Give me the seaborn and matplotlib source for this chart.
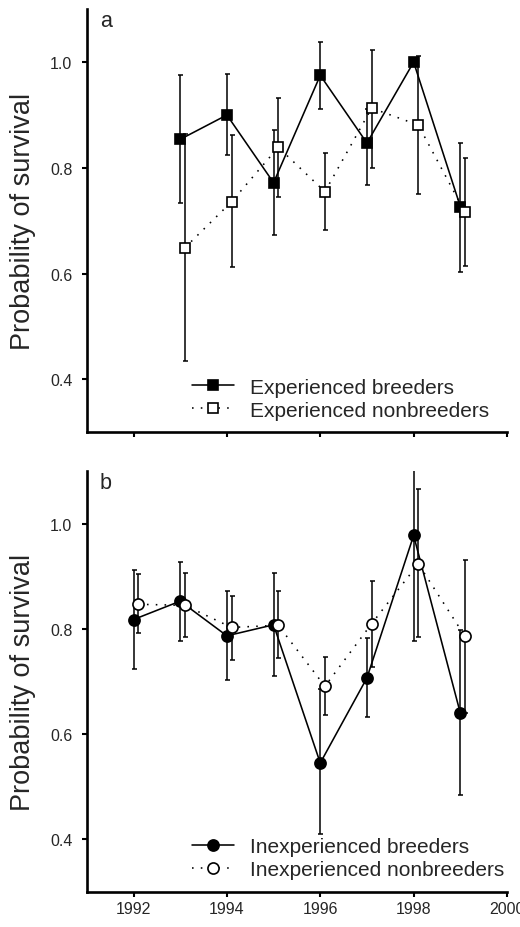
import numpy as np
import pandas as pd
import matplotlib.pyplot as plt
import seaborn as sns

sns.set_theme(style="ticks")
plt.rcParams['font.family'] = ['Liberation Sans', 'DejaVu Sans']
plt.rc('xtick', labelsize=11.5)
plt.rc('ytick', labelsize=11.5)

# panel a: experienced birds
years_a = [1993, 1994, 1995, 1996, 1997, 1998, 1999]
exp_breed = [0.854, 0.900, 0.772, 0.975, 0.847, 1.000, 0.727]
exp_breed_lo = [0.733, 0.825, 0.674, 0.911, 0.768, 1.000, 0.604]
exp_breed_hi = [0.976, 0.978, 0.871, 1.038, 0.911, 1.000, 0.848]
exp_non = [0.649, 0.736, 0.839, 0.755, 0.913, 0.881, 0.716]
exp_non_lo = [0.435, 0.612, 0.745, 0.682, 0.800, 0.750, 0.614]
exp_non_hi = [0.864, 0.862, 0.932, 0.829, 1.023, 1.011, 0.818]

# panel b: inexperienced birds
years_b = [1992, 1993, 1994, 1995, 1996, 1997, 1998, 1999]
inexp_breed = [0.818, 0.853, 0.787, 0.808, 0.545, 0.707, 0.978, 0.640]
inexp_breed_lo = [0.724, 0.777, 0.702, 0.711, 0.410, 0.632, 0.777, 0.484]
inexp_breed_hi = [0.913, 0.927, 0.873, 0.907, 0.686, 0.782, 1.120, 0.798]
inexp_non = [0.847, 0.845, 0.803, 0.807, 0.691, 0.810, 0.924, 0.786]
inexp_non_lo = [0.793, 0.785, 0.741, 0.744, 0.637, 0.727, 0.784, 0.640]
inexp_non_hi = [0.904, 0.907, 0.862, 0.872, 0.746, 0.892, 1.066, 0.932]

year_ticks = [1992, 1994, 1996, 1998, 2000]
prob_ticks = [0.4, 0.6, 0.8, 1.0]
DODGE = 0.1  # nonbreeders shifted right a little so bars don't overlap


def draw_series(ax, x, y, lo, hi, label, marker, filled, ls, ms):
    x = np.asarray(x, dtype=float)
    y = np.asarray(y)
    yerr = [y - np.asarray(lo), np.asarray(hi) - y]
    ax.errorbar(x, y, yerr=yerr, fmt='none', ecolor='black',
                elinewidth=1.1, capsize=1.8, capthick=1.1, zorder=2)
    df = pd.DataFrame({'Year': x, 'Survival': y})
    sns.lineplot(data=df, x='Year', y='Survival', ax=ax, color='black',
                 errorbar=None, label=label, legend=False,
                 marker=marker, markersize=ms,
                 markerfacecolor='black' if filled else 'white',
                 markeredgecolor='black', markeredgewidth=1.2,
                 linestyle=ls, linewidth=1.15, zorder=3)


fig = plt.figure(figsize=(5.2, 9.28), dpi=100)
ax_a = fig.add_axes([0.167, 0.533, 0.808, 0.456])
ax_b = fig.add_axes([0.167, 0.038, 0.808, 0.453])

draw_series(ax_a, years_a, exp_breed, exp_breed_lo, exp_breed_hi,
            'Experienced breeders', 's', True, '-', 7)
draw_series(ax_a, np.array(years_a) + DODGE, exp_non, exp_non_lo, exp_non_hi,
            'Experienced nonbreeders', 's', False, (0, (1, 4.5)), 7)

draw_series(ax_b, years_b, inexp_breed, inexp_breed_lo, inexp_breed_hi,
            'Inexperienced breeders', 'o', True, '-', 8)
draw_series(ax_b, np.array(years_b) + DODGE, inexp_non, inexp_non_lo, inexp_non_hi,
            'Inexperienced nonbreeders', 'o', False, (0, (1, 4.5)), 8)

for ax, letter in [(ax_a, 'a'), (ax_b, 'b')]:
    ax.set_xlim(1991, 2000)
    ax.set_ylim(0.3, 1.1)
    ax.set_xticks(year_ticks)
    ax.set_yticks(prob_ticks)
    ax.yaxis.set_major_formatter(plt.FormatStrFormatter('%.1f'))
    ax.set_xlabel('')
    ax.set_ylabel('Probability of survival', fontsize=19.5)
    ax.yaxis.set_label_coords(-0.12, 0.5)
    sns.despine(ax=ax)
    for side in ['left', 'bottom']:
        ax.spines[side].set_linewidth(1.9)
        ax.spines[side].set_color('black')
    ax.tick_params(direction='out', length=3.5, width=1.5, color='black', pad=3)
    ax.tick_params(axis='y', pad=7)
    ax.text(0.031, 0.998, letter, transform=ax.transAxes, fontsize=15.5,
            ha='left', va='top')
    ax.legend(loc='lower left', bbox_to_anchor=(0.25, 0.03), frameon=False,
              fontsize=15, handlelength=2.0, handletextpad=0.8,
              labelspacing=0.2, borderpad=0, borderaxespad=0)

ax_a.set_xticklabels([])

fig.savefig('out.png', dpi=100)
